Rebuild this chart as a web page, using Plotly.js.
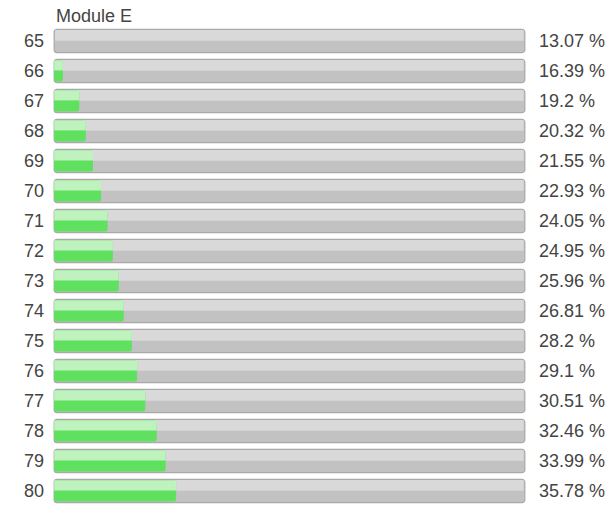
<!DOCTYPE html>
<html>
<head>
<meta charset="utf-8">
<script src="https://cdn.plot.ly/plotly-3.0.1.min.js"></script>
<style>html,body{margin:0;padding:0;background:#fff;}#chart{width:615px;height:506px;}</style>
</head>
<body>
<div id="chart"></div>
<script>
var categories = ["65","66","67","68","69","70","71","72","73","74","75","76","77","78","79","80"];
var values = [13.07,16.39,19.2,20.32,21.55,22.93,24.05,24.95,25.96,26.81,28.2,29.1,30.51,32.46,33.99,35.78];
var valueLabels = values.map(function(v){ return v + " %"; });
var chartTitle = "Module E";

var xMin = 14.9, xMax = 95.5;
var span = xMax - xMin;
var trackLen = categories.map(function(){ return span; });
var fillLen = values.map(function(v){ return Math.max(v - xMin, 0); });
var FONT = 'Liberation Sans, Arial, sans-serif';

var traces = [
  {type:'bar', orientation:'h', y:categories, x:trackLen, base:xMin, width:0.78,
   marker:{color:'#c2c2c2', line:{color:'#a9a9a9', width:1.2}, cornerradius:3},
   hoverinfo:'skip', showlegend:false},
  {type:'bar', orientation:'h', y:categories, x:trackLen.map(function(s){return s-0.35;}), base:xMin+0.15, width:0.36, offset:-0.37,
   marker:{color:'#d9d9d9', line:{width:0}},
   hoverinfo:'skip', showlegend:false},
  {type:'bar', orientation:'h', y:categories, x:fillLen, base:xMin, width:0.7,
   marker:{color:'#5fe05f', line:{width:0}, cornerradius:2},
   hoverinfo:'skip', showlegend:false},
  {type:'bar', orientation:'h', y:categories, x:fillLen, base:xMin, width:0.33, offset:-0.35,
   marker:{color:'#bff2bf', line:{width:0}},
   hoverinfo:'skip', showlegend:false}
];

var annotations = categories.map(function(c, i){
  return {xref:'paper', yref:'y', x:1, y:i, xanchor:'left', xshift:11, yanchor:'middle',
    text:valueLabels[i], showarrow:false, font:{family:FONT, size:18, color:'#444'}};
});

var layout = {
  width:615, height:506,
  margin:{l:53, r:89, t:26, b:0},
  paper_bgcolor:'#fff', plot_bgcolor:'#fff',
  barmode:'overlay',
  title:{text:chartTitle, x:56/615, xanchor:'left', y:1-16/506, yanchor:'middle',
    font:{family:FONT, size:18, color:'#444'}},
  xaxis:{range:[xMin-0.2, xMax+0.2], visible:false, fixedrange:true},
  yaxis:{type:'category', range:[15.5,-0.5], showgrid:false, zeroline:false, showline:false,
    ticks:'', ticklabelstandoff:8,
    tickfont:{family:FONT, size:18, color:'#444'}},
  annotations:annotations,
  showlegend:false
};

Plotly.newPlot('chart', traces, layout, {displayModeBar:false, staticPlot:true});
</script>
</body>
</html>
